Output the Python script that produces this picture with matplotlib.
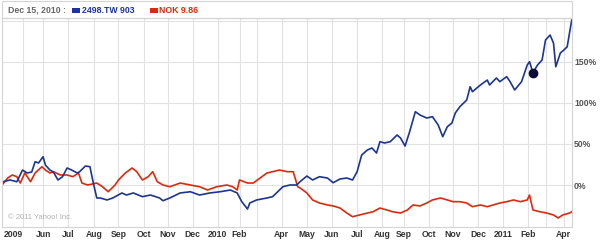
import matplotlib
matplotlib.use('Agg')
import matplotlib.pyplot as plt
from matplotlib.patches import Rectangle

# ---- data (x = trading-day index from chart start, y = % change) ----
blue_day = [0, 1, 7, 13, 18, 22, 26, 29, 32, 36, 38, 42, 45, 49, 53, 57, 61, 66, 68, 73, 77,
            80, 83, 86, 92, 97, 105, 109, 115, 123, 130, 138, 141, 147, 156, 165, 173, 182,
            191, 200, 206, 210, 215, 217, 223, 232, 237, 246, 252, 258, 261, 267, 272, 278,
            285, 290, 296, 302, 307, 311, 315, 320, 324, 328, 331, 335, 340, 346, 349, 353,
            357, 362, 366, 372, 377, 382, 386, 390, 394, 397, 401, 407, 410, 412, 419, 425,
            427, 433, 436, 442, 445, 449, 455, 460, 462, 465, 469, 473, 476, 480, 483, 485,
            489, 492, 495, 497, 499]
blue_pct = [0, 4.0, 6.1, 4.0, 18.2, 14.6, 15.8, 28.3, 26.8, 34.4, 24.3, 18.2, 15.8, 6.1, 10.1,
            20.7, 18.2, 14.6, 16.2, 23.1, 22.3, 2.4, -15.8, -15.8, -18.2, -15.8, -9.7, -12.2,
            -9.7, -14.2, -12.2, -15.8, -19.1, -15.8, -9.7, -8.2, -12.2, -9.7, -8.2, -6.1, -9.7,
            -20.3, -29.2, -21.9, -18.2, -15.8, -14.2, -2.1, 0, 0, 4.0, 10.9, 6.1, 10.1, 8.5,
            2.8, 7.3, 8.5, 6.1, 16.2, 36.5, 42.6, 45.0, 38.9, 52.7, 51.1, 52.7, 60.8, 57.2,
            47.4, 64.8, 89.2, 85.2, 81.5, 83.1, 73.0, 58.8, 70.9, 75.4, 87.6, 95.3, 103.4,
            119.6, 113.5, 121.7, 127.7, 121.7, 130.2, 125.7, 131.8, 125.7, 115.6, 125.7,
            146.0, 150.0, 136.6, 146.0, 152.1, 176.4, 182.5, 172.7, 143.9, 160.6, 164.2,
            168.2, 184.9, 200.7]

red_day = [0, 5, 9, 13, 16, 20, 25, 29, 35, 38, 42, 45, 51, 57, 62, 67, 70, 75, 83, 88, 93,
           99, 102, 108, 114, 118, 123, 128, 132, 136, 141, 147, 156, 165, 173, 180, 188, 197,
           202, 206, 208, 215, 220, 226, 232, 237, 243, 250, 255, 259, 261, 267, 272, 278,
           285, 290, 296, 302, 307, 313, 320, 325, 331, 337, 342, 349, 355, 360, 366, 372,
           377, 384, 390, 395, 401, 407, 412, 419, 425, 430, 436, 442, 448, 454, 460, 462,
           465, 471, 477, 483, 487, 491, 497, 499]
red_pct = [0, 8.5, 12.2, 10.1, 2.4, 14.6, 4.0, 14.6, 22.3, 18.2, 14.6, 16.2, 12.2, 12.2, 10.1,
           14.6, 2.4, 0, 2.4, -2.1, -8.2, 0, 6.1, 14.6, 20.7, 16.2, 6.1, 10.1, 16.2, 4.0, 0,
           -2.1, 2.4, 0, -2.1, -6.1, -2.1, 0, -2.1, -6.1, 6.1, 2.4, 2.4, 8.5, 14.6, 16.2,
           18.2, 16.2, 16.2, -2.1, -3.6, -9.7, -18.2, -21.9, -24.3, -25.5, -28.0, -34.1,
           -38.6, -36.5, -34.1, -32.5, -28.0, -30.4, -32.5, -34.1, -30.4, -24.3, -25.5,
           -21.9, -18.2, -15.8, -18.2, -20.3, -20.3, -21.9, -26.4, -24.3, -26.4, -24.3,
           -21.9, -20.3, -18.2, -20.3, -18.2, -12.2, -30.4, -32.5, -34.1, -36.5, -40.1,
           -36.5, -34.1, -32.5]

tick_day = [18, 36, 58, 81, 102, 124, 145, 167, 189, 208, 223, 245, 267, 289, 311, 333,
            352, 374, 395, 417, 439, 461, 476, 492]
tick_labels = ['2009', 'Jun', 'Jul', 'Aug', 'Sep', 'Oct', 'Nov', 'Dec', '2010', 'Feb', '',
               'Apr', 'May', 'Jun', 'Jul', 'Aug', 'Sep', 'Oct', 'Nov', 'Dec', '2011', 'Feb',
               '', 'Apr']
y_ticks = [0, 50, 100, 150]
y_labels = ['0%', '50%', '100%', '150%']
dot_day = 465
dot_pct = 136.6
header_date = 'Dec 15, 2010 :'
blue_name, blue_val = '2498.TW', '903'
red_name, red_val = 'NOK', '9.86'

BLUE = '#1c3591'
RED = '#dc2a0e'
GRID = '#e2e2e2'
FONT = ['Liberation Sans', 'DejaVu Sans']

W, H = 600, 240
fig = plt.figure(figsize=(6, 2.4), dpi=100)
ax = fig.add_axes([2 / W, 1 - 227 / H, 570 / W, (227 - 18) / H])

ax.plot(red_day, red_pct, color=RED, lw=1.2, solid_joinstyle='round')
ax.plot(blue_day, blue_pct, color=BLUE, lw=1.2, solid_joinstyle='round')
ax.plot([dot_day], [dot_pct], 'o', color='#0c0c3a', ms=6)

ax.set_xlim(0, 499.2)
ax.set_ylim(-51.1, 203.2)

ax.set_xticks(tick_day)
ax.set_xticklabels(tick_labels, fontfamily=FONT, fontweight='bold', fontsize=6.2,
                   color='#333333')
ax.get_xticklabels()[0].set_ha('right')
ax.set_yticks(y_ticks + [200])
ax.set_yticklabels(y_labels + [''], fontfamily=FONT, fontweight='bold', fontsize=6.2,
                   color='#555555')
ax.yaxis.tick_right()
ax.tick_params(axis='both', length=0)
ax.tick_params(axis='x', pad=2.5)
ax.tick_params(axis='y', pad=1.5)
ax.grid(True, color=GRID, lw=0.8)
ax.set_axisbelow(True)
for s in ax.spines.values():
    s.set_color('#d4d4d4')
    s.set_linewidth(0.8)

ax.text(0.01, 0.03, '\u00a9 2011 Yahoo! Inc.', transform=ax.transAxes, fontsize=5.5,
        color='#b0b0b0', fontfamily=FONT, va='bottom', ha='left')

# header box
fig.add_artist(Rectangle((2 / W, 1 - 18 / H), 570 / W, 17 / H, transform=fig.transFigure,
                         fill=False, ec='#d4d4d4', lw=0.8))
yc = 1 - 10.5 / H
fig.text(8 / W, yc, header_date, fontsize=6.3, fontweight='bold', color='#666666',
         fontfamily=FONT, va='center')
fig.add_artist(Rectangle((72 / W, 1 - 12.5 / H), 8 / W, 4 / H, transform=fig.transFigure,
                         fc=BLUE, ec='none'))
fig.text(82 / W, yc, blue_name + ' ' + blue_val, fontsize=6.3, fontweight='bold',
         color=BLUE, fontfamily=FONT, va='center')
fig.add_artist(Rectangle((150 / W, 1 - 12.5 / H), 8 / W, 4 / H, transform=fig.transFigure,
                         fc=RED, ec='none'))
fig.text(159 / W, yc, red_name + ' ' + red_val, fontsize=6.3, fontweight='bold',
         color=RED, fontfamily=FONT, va='center')

fig.savefig('out.png', dpi=100)
